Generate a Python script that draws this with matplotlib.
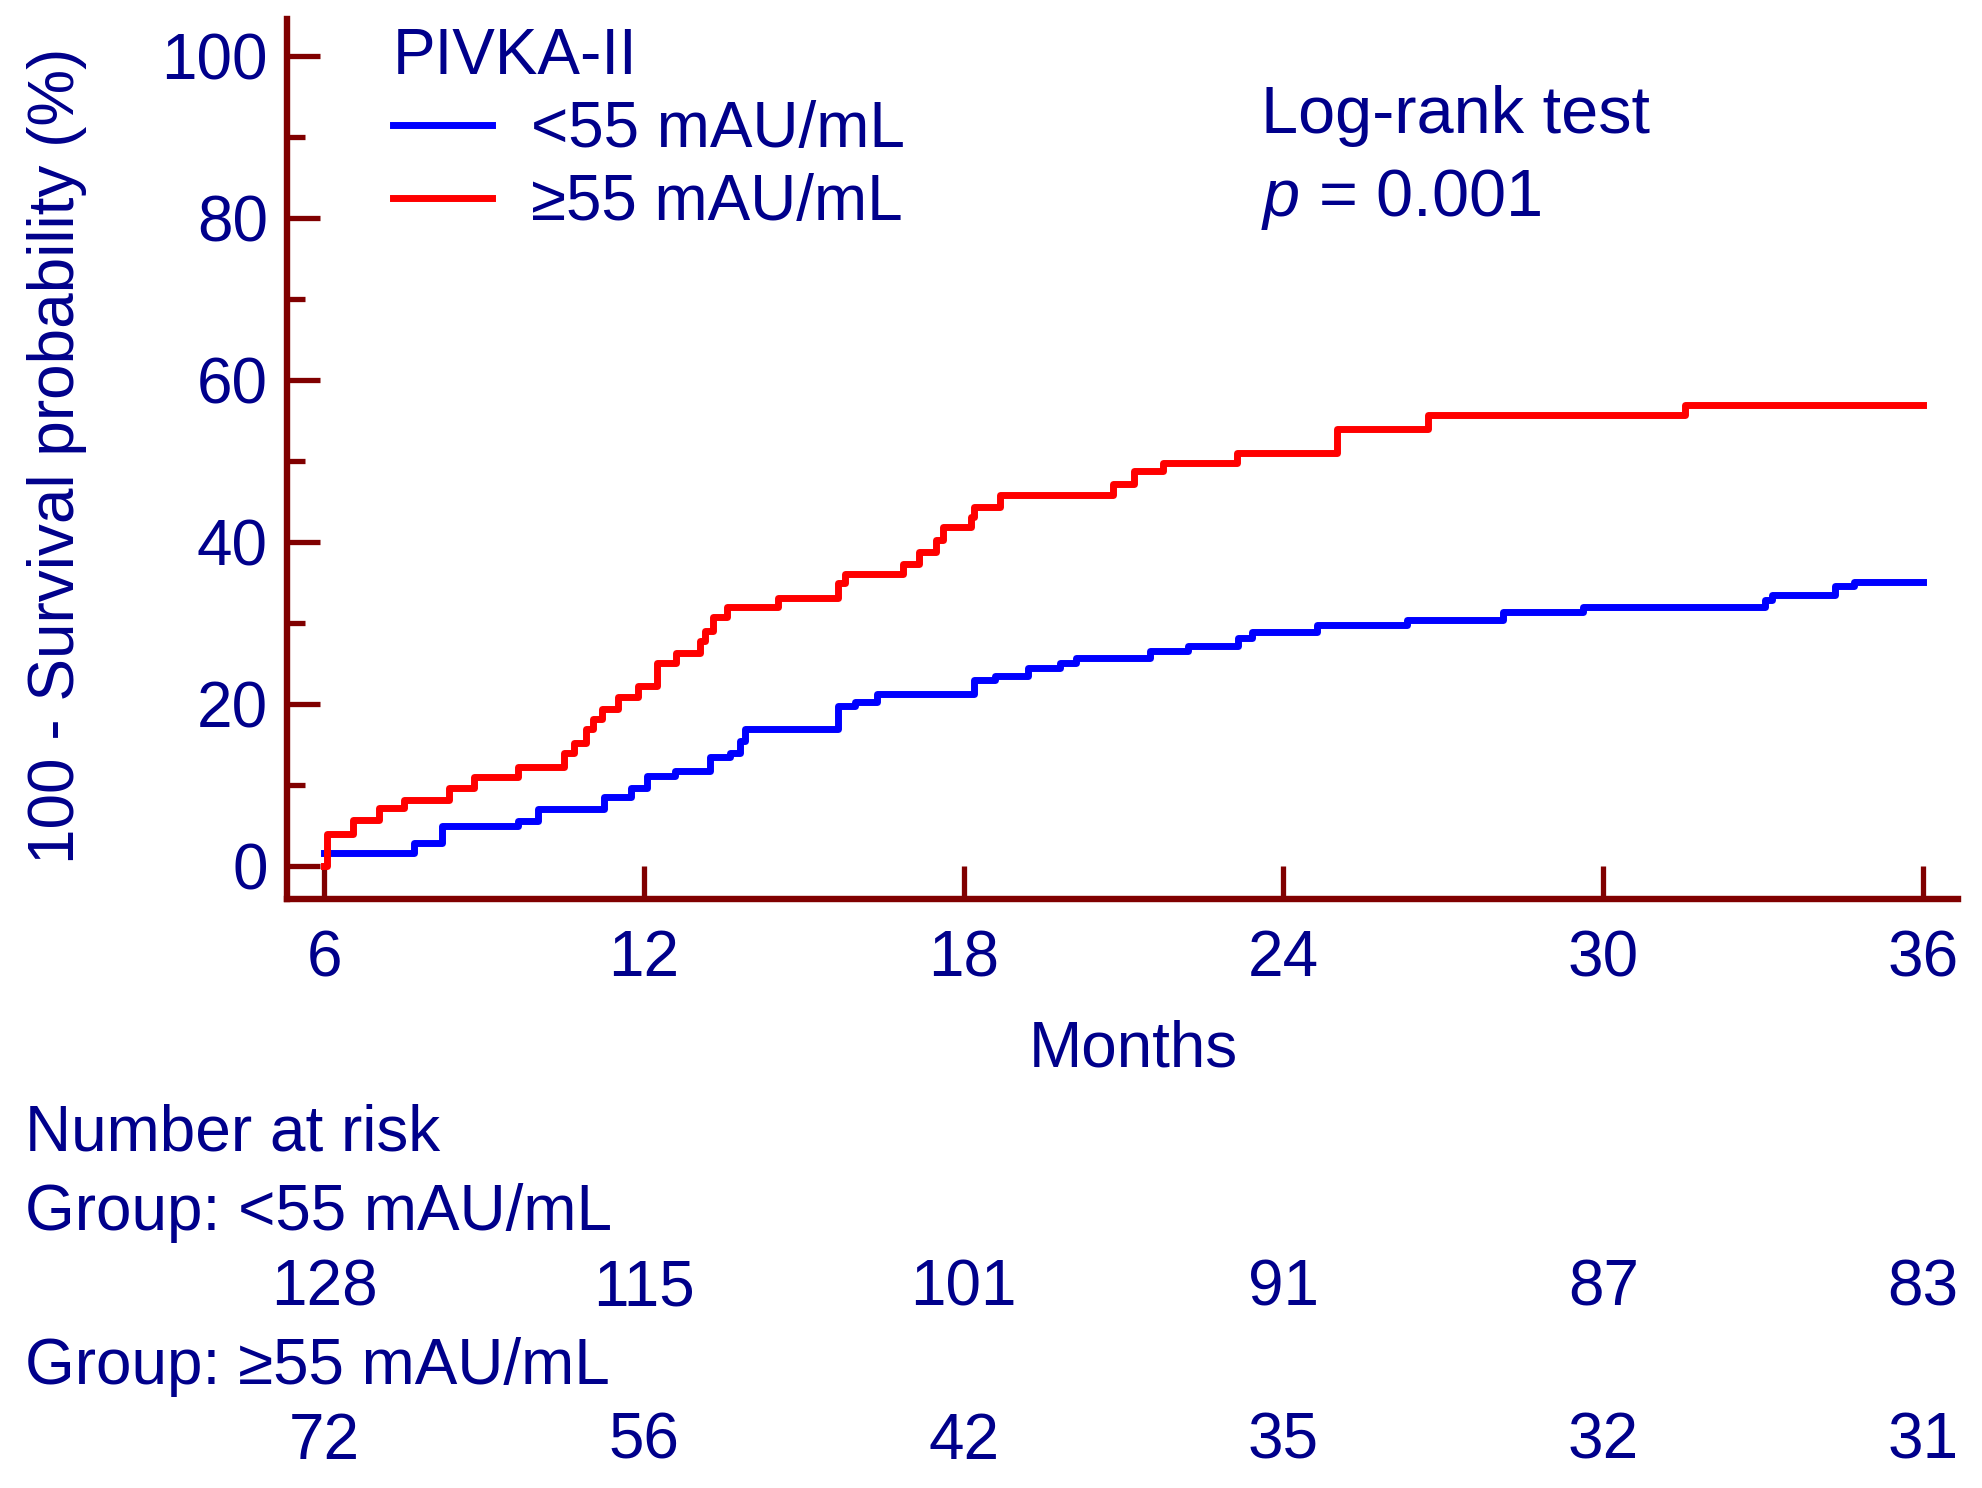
import matplotlib
matplotlib.use("Agg")
import matplotlib.pyplot as plt
import matplotlib.transforms as mtransforms
from matplotlib.ticker import MultipleLocator

plt.rcParams['font.family'] = ['Liberation Sans', 'DejaVu Sans']
plt.rcParams['mathtext.fontset'] = 'custom'
plt.rcParams['mathtext.it'] = 'Liberation Sans:italic'
plt.rcParams['mathtext.rm'] = 'Liberation Sans'

# step curves (months, 100 - survival %)
low_t = [6, 7.68, 8.22, 9.63, 10.02, 11.25, 11.76, 12.06, 12.58, 13.24, 13.62, 13.8, 13.9,
         15.64, 15.96, 16.38, 18.19, 18.58, 19.2, 19.81, 20.11, 21.5, 22.21, 23.14, 23.4,
         24.63, 26.32, 28.12, 29.62, 33.03, 33.16, 34.35, 34.71, 36]
low_v = [1.6, 2.9, 4.9, 5.5, 7.0, 8.5, 9.6, 11.1, 11.7, 13.4, 14.0, 15.4, 16.9,
         19.7, 20.3, 21.2, 22.9, 23.4, 24.4, 25.0, 25.7, 26.6, 27.2, 28.1, 28.9,
         29.8, 30.4, 31.3, 32.0, 32.8, 33.5, 34.5, 35.1, 35.1]

high_t = [6, 6.06, 6.54, 7.02, 7.5, 8.34, 8.82, 9.63, 10.5, 10.68, 10.92, 11.04, 11.22,
          11.52, 11.88, 12.24, 12.6, 13.06, 13.14, 13.3, 13.56, 14.52, 15.64, 15.78,
          16.86, 17.16, 17.48, 17.61, 18.13, 18.19, 18.69, 20.81, 21.2, 21.73, 23.12,
          25.0, 26.72, 31.54, 36]
high_v = [0, 4.0, 5.7, 7.1, 8.2, 9.6, 11.0, 12.2, 14.0, 15.2, 16.9, 18.1, 19.4,
          20.9, 22.2, 25.0, 26.3, 27.8, 29.0, 30.7, 32.0, 33.1, 34.9, 36.1,
          37.3, 38.7, 40.2, 41.8, 43.1, 44.3, 45.8, 47.2, 48.7, 49.8, 51.0,
          54.0, 55.7, 56.9, 56.9]

risk_months = [6, 12, 18, 24, 30, 36]
risk_low = [128, 115, 101, 91, 87, 83]
risk_high = [72, 56, 42, 35, 32, 31]

navy = '#00008b'
maroon = '#800000'
fs = 46

fig = plt.figure(figsize=(19.82, 14.88), dpi=100)
ax = fig.add_axes([0.145, 0.396, 0.843, 0.591])

ax.plot(low_t, low_v, drawstyle='steps-post', color='#0000ff', lw=5, label='<55 mAU/mL')
ax.plot(high_t, high_v, drawstyle='steps-post', color='#ff0000', lw=5, label='≥55 mAU/mL')

ax.set_xlim(5.31, 36.66)
ax.set_ylim(-4.04, 104.5)
ax.set_xticks(risk_months)
ax.yaxis.set_major_locator(MultipleLocator(20))
ax.yaxis.set_minor_locator(MultipleLocator(10))
ax.set_yticks([0, 20, 40, 60, 80, 100])

for s in ['top', 'right']:
    ax.spines[s].set_visible(False)
for s in ['left', 'bottom']:
    ax.spines[s].set_color(maroon)
    ax.spines[s].set_linewidth(4.6)

ax.tick_params(axis='both', which='major', direction='in', length=24, width=3.8,
               color=maroon, labelcolor=navy, labelsize=fs)
ax.tick_params(axis='y', which='minor', direction='in', length=13, width=3.8, color=maroon)
ax.tick_params(axis='x', pad=22)
ax.tick_params(axis='y', pad=14)

leg = ax.legend(title='PIVKA-II', loc='upper left', bbox_to_anchor=(0.048, 1.02),
                frameon=False, fontsize=fs, title_fontsize=fs, handlelength=1.55,
                handletextpad=0.6, labelspacing=0.2, borderaxespad=0)
leg._legend_box.align = 'left'
leg.get_title().set_color(navy)
for t in leg.get_texts():
    t.set_color(navy)

fig.text(0.636, 0.922, 'Log-rank test', fontsize=48, color=navy, va='center')
fig.text(0.636, 0.866, r'$\it{p}$ = 0.001', fontsize=48, color=navy, va='center')

fig.text(0.572, 0.295, 'Months', fontsize=fs, color=navy, ha='center', va='center')
fig.text(0.0287, 0.694, '100 - Survival probability (%)', fontsize=fs, color=navy,
         ha='center', va='center', rotation=90)

# number at risk table
fig.text(0.0128, 0.238, 'Number at risk', fontsize=fs, color=navy, va='center')
fig.text(0.0128, 0.185, 'Group: <55 mAU/mL', fontsize=fs, color=navy, va='center')
fig.text(0.0128, 0.0815, 'Group: ≥55 mAU/mL', fontsize=fs, color=navy, va='center')
trans = mtransforms.blended_transform_factory(ax.transData, fig.transFigure)
for m, a, b in zip(risk_months, risk_low, risk_high):
    ax.text(m, 0.134, str(a), transform=trans, fontsize=fs, color=navy, ha='center', va='center')
    ax.text(m, 0.031, str(b), transform=trans, fontsize=fs, color=navy, ha='center', va='center')

fig.savefig('out.png', dpi=100)
